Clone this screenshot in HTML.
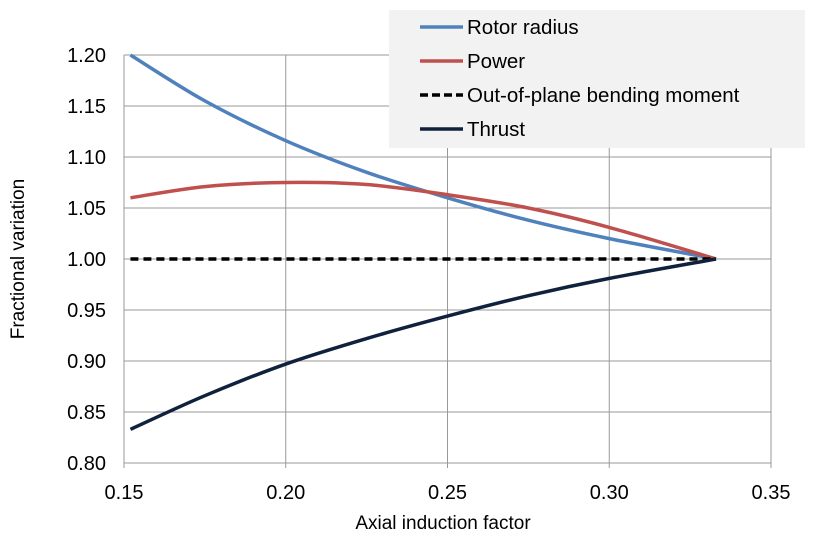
<!DOCTYPE html>
<html><head><meta charset="utf-8"><style>
body{margin:0;background:#fff;}
svg{display:block;font-family:"Liberation Sans",sans-serif;}
</style></head><body>
<svg id="chart" width="816" height="537"></svg>
<script>
const xs = [0.152, 0.175, 0.20, 0.225, 0.25, 0.275, 0.30, 0.333];
const rotorRadius = [1.20, 1.155, 1.116, 1.085, 1.06, 1.038, 1.02, 1.0];
const power = [1.06, 1.071, 1.075, 1.073, 1.063, 1.05, 1.031, 1.0];
const bending = [1.0, 1.0, 1.0, 1.0, 1.0, 1.0, 1.0, 1.0];
const thrust = [0.833, 0.866, 0.897, 0.922, 0.944, 0.964, 0.981, 1.0];
const xTicks = [0.15, 0.20, 0.25, 0.30, 0.35];
const yTicks = [0.80, 0.85, 0.90, 0.95, 1.00, 1.05, 1.10, 1.15, 1.20];
const seriesNames = ["Rotor radius", "Power", "Out-of-plane bending moment", "Thrust"];

const NS = "http://www.w3.org/2000/svg";
const svg = document.getElementById('chart');
const X0 = 124, X1 = 771, Y0 = 463, Y1 = 55;
const sx = v => X0 + (v - 0.15) / 0.20 * (X1 - X0);
const sy = v => Y0 - (v - 0.80) / 0.40 * (Y0 - Y1);
function mk(tag, attrs, parent) {
  const e = document.createElementNS(NS, tag);
  for (const k in attrs) e.setAttribute(k, attrs[k]);
  (parent || svg).appendChild(e);
  return e;
}
yTicks.forEach(t => {
  const l = mk('line', {x1: X0, x2: X1, y1: sy(t), y2: sy(t), stroke: '#999', 'stroke-width': 1});
  
  
  const tx = mk('text', {x: 106, y: sy(t) + 7, 'text-anchor': 'end', 'font-size': 20, fill: '#000'});
  tx.textContent = t.toFixed(2);
  
  
});
xTicks.forEach(t => {
  const l = mk('line', {x1: sx(t), x2: sx(t), y1: Y1, y2: Y0 + 5, stroke: '#999', 'stroke-width': 1});
  
  
  const tx = mk('text', {x: sx(t), y: 499, 'text-anchor': 'middle', 'font-size': 20, fill: '#000'});
  tx.textContent = t.toFixed(2);
  
  
});
const xt = mk('text', {x: 443, y: 529, 'text-anchor': 'middle', 'font-size': 19});
xt.textContent = 'Axial induction factor';


const yt = mk('text', {x: 0, y: 0, 'text-anchor': 'middle', 'font-size': 19, transform: 'translate(24,259) rotate(-90)'});
yt.textContent = 'Fractional variation';



function pathFor(vals) {
  const p = xs.map((x, i) => [sx(x), sy(vals[i])]);
  let d = 'M' + p[0][0] + ',' + p[0][1];
  for (let i = 0; i < p.length - 1; i++) {
    const a = p[i - 1] || p[i], b = p[i], c = p[i + 1], e = p[i + 2] || c;
    const c1 = [b[0] + (c[0] - a[0]) / 6, b[1] + (c[1] - a[1]) / 6];
    const c2 = [c[0] - (e[0] - b[0]) / 6, c[1] - (e[1] - b[1]) / 6];
    d += ' C' + c1 + ' ' + c2 + ' ' + c;
  }
  return d;
}
const colors = ['#4f81bd', '#c0504d', '#000', '#0f213d'];
const datasets = [rotorRadius, power, bending, thrust];
const names = ['rotor-radius-line', 'power-line', 'bending-moment-line', 'thrust-line'];
datasets.forEach((vals, i) => {
  const a = {d: pathFor(vals), fill: 'none', stroke: colors[i], 'stroke-width': 3.5};
  if (i === 2) a['stroke-dasharray'] = '8,5';
  const p = mk('path', a);
  
  
});
const lg = mk('g', {});


mk('rect', {x: 389, y: 10, width: 416, height: 138, fill: '#f2f2f2'}, lg);
seriesNames.forEach((n, i) => {
  const y = 27 + i * 34;
  const a = {x1: 420, x2: 463, y1: y, y2: y, stroke: colors[i], 'stroke-width': 3.5};
  if (i === 2) a['stroke-dasharray'] = '8,4';
  const l = mk('line', a, lg);
  
  
  const t = mk('text', {x: 467, y: y + 7, 'font-size': 20.5}, lg);
  t.textContent = n;
  
  
});
</script>
</body></html>
